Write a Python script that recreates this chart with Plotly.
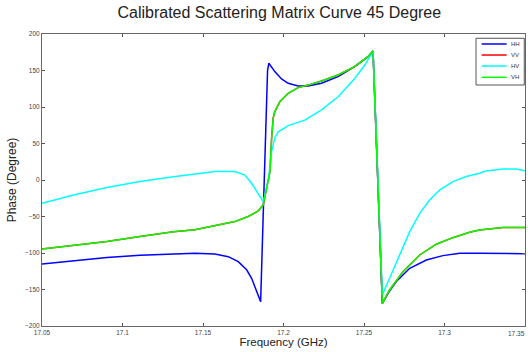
import plotly.graph_objects as go

# ---- data ----
freq_hh = [17.05, 17.0696, 17.0903, 17.1109, 17.1316, 17.145, 17.1574, 17.1657, 17.1719, 17.1771,
           17.1802, 17.1822, 17.1843, 17.1858, 17.1875, 17.1890, 17.1901, 17.1909, 17.1946, 17.1988,
           17.2029, 17.2091, 17.2153, 17.2236, 17.2339, 17.2442, 17.2525, 17.2556, 17.2614, 17.2659,
           17.2701, 17.2784, 17.2887, 17.2990, 17.3094, 17.3218, 17.3362, 17.35]
phase_hh = [-115, -111, -106, -103, -101, -100.4, -101.4, -105, -111.8, -123,
            -134.7, -146, -157.5, -166.6, -40, 90, 150, 160, 148.5, 138.4,
            132.5, 128.8, 128.8, 132.5, 141.6, 155.3, 169, 176.7, -169, -152,
            -139, -121, -109.6, -103.6, -100.4, -100.4, -100.4, -101]

freq_hv = [17.05, 17.0696, 17.0903, 17.1109, 17.1316, 17.145, 17.1574, 17.1698, 17.1760, 17.1802,
           17.1833, 17.1864, 17.1874, 17.1895, 17.1907, 17.1926, 17.1946, 17.1967, 17.2029, 17.2132,
           17.2236, 17.2339, 17.2442, 17.2505, 17.2556, 17.2614, 17.2659, 17.2721, 17.2784, 17.2846,
           17.2907, 17.2969, 17.3052, 17.3135, 17.3218, 17.3259, 17.3362, 17.3445, 17.35]
phase_hv = [-32, -20.5, -10.4, -2.2, 4.6, 7.8, 11.5, 11.5, 6.8, -4.5,
            -16, -27.4, -29.6, -10, 2, 39, 58, 66, 74.5, 82,
            96, 114, 139, 157.5, 176.7, -157.5, -134.7, -102.7, -70.7, -45.6,
            -27.4, -13.7, -2.2, 4.7, 9.2, 12.5, 15, 15, 12.5]

freq_vh = [17.05, 17.0696, 17.0903, 17.1109, 17.1316, 17.145, 17.1574, 17.1698, 17.1781, 17.1843,
           17.1874, 17.1895, 17.1916, 17.1926, 17.1936, 17.1946, 17.1977, 17.2029, 17.2091, 17.2153,
           17.2236, 17.2339, 17.2442, 17.2525, 17.2556, 17.2614, 17.2659, 17.2742, 17.2846, 17.2949,
           17.3052, 17.3156, 17.3218, 17.3362, 17.35]
phase_vh = [-94.5, -90, -84.4, -77.5, -71, -68, -63, -57, -50, -42.5,
            -34, -11, 11.5, 57, 85, 93.7, 107.4, 118.8, 126.6, 130,
            135.6, 143.8, 155.3, 169, 176.7, -169, -150.7, -125.5, -102.7, -88,
            -79, -71.6, -68.5, -65, -65]

freq_vv = list(freq_vh)
phase_vv = list(phase_vh)

x_ticks = [17.05, 17.1, 17.15, 17.2, 17.25, 17.3, 17.35]
x_tick_text = ["17.05", "17.1", "17.15", "17.2", "17.25", "17.3", "17.35"]
y_ticks = [-200, -150, -100, -50, 0, 50, 100, 150, 200]

names = ["HH", "VV", "HV", "VH"]
colors = ["#0000ff", "#ff0000", "#00ffff", "#00ff00"]
xs = [freq_hh, freq_vv, freq_hv, freq_vh]
ys = [phase_hh, phase_vv, phase_hv, phase_vh]

fig = go.Figure()
for name, fx, fy, col in zip(names, xs, ys, colors):
    fig.add_trace(go.Scatter(x=fx, y=fy, mode="lines", name=name,
                             line=dict(color=col, width=1.5), showlegend=False))

# ---- compact MATLAB-style legend box (paper coords of the plot area) ----
fig.add_shape(type="rect", xref="paper", yref="paper",
              x0=0.8986, x1=0.9985, y0=0.8253, y1=0.9853,
              line=dict(color="#555", width=1), fillcolor="white", layer="above")
row_y = [0.9658, 0.928, 0.8904, 0.8517]
for name, col, ry in zip(names, colors, row_y):
    fig.add_shape(type="line", xref="paper", yref="paper",
                  x0=0.9102, x1=0.962, y0=ry, y1=ry,
                  line=dict(color=col, width=1.5), layer="above")
    fig.add_annotation(xref="paper", yref="paper", x=0.9669, y=ry, text=name,
                       showarrow=False, xanchor="left", yanchor="middle",
                       font=dict(size=6, color="#333"))

# last x tick label (kept inside the picture at the right edge)
fig.add_annotation(xref="x", yref="paper", x=x_ticks[-1], y=0, yshift=-7, xshift=2,
                   text=x_tick_text[-1], showarrow=False, xanchor="right", yanchor="middle",
                   font=dict(size=6.5, color="#444"))

font_family = "Liberation Sans, Arial, sans-serif"
fig.update_layout(
    width=528, height=352,
    margin=dict(l=42, r=3, t=34, b=26),
    paper_bgcolor="white", plot_bgcolor="white",
    font=dict(family=font_family, color="#222"),
    title=dict(text="Calibrated Scattering Matrix Curve 45 Degree",
               x=0.529, xanchor="center", y=0.966, yanchor="middle",
               font=dict(size=16, color="#222")),
    showlegend=False,
)
fig.update_xaxes(range=[17.05, 17.35], tickvals=x_ticks, ticktext=x_tick_text,
                 ticks="inside", ticklen=3, tickcolor="#555", showgrid=False, zeroline=False,
                 showline=True, linecolor="#666", linewidth=1, mirror="ticks",
                 tickfont=dict(size=6.5, color="#444"),
                 title=dict(text="Frequency (GHz)", font=dict(size=11.5), standoff=2))
fig.update_yaxes(range=[-200, 200], tickvals=y_ticks,
                 ticks="inside", ticklen=3, tickcolor="#555", showgrid=False, zeroline=False,
                 showline=True, linecolor="#666", linewidth=1, mirror="ticks",
                 tickfont=dict(size=6.5, color="#444"),
                 title=dict(text="Phase (Degree)", font=dict(size=12), standoff=5))

fig.write_html("out.html")
